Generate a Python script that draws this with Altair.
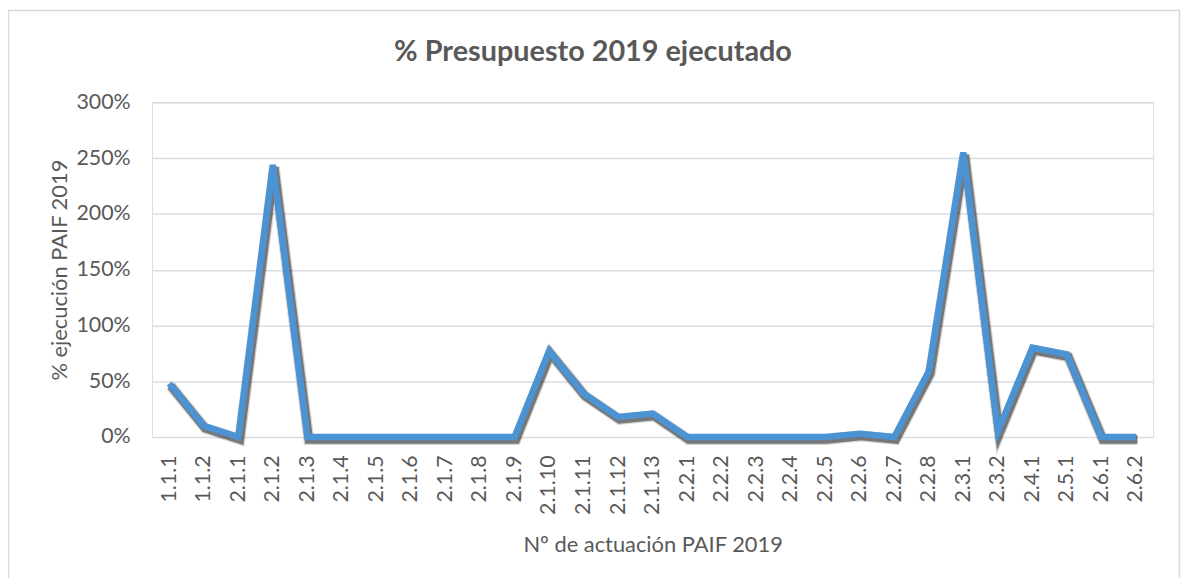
import altair as alt
import pandas as pd

categories = ["1.1.1", "1.1.2", "2.1.1", "2.1.2", "2.1.3", "2.1.4", "2.1.5", "2.1.6",
              "2.1.7", "2.1.8", "2.1.9", "2.1.10", "2.1.11", "2.1.12", "2.1.13",
              "2.2.1", "2.2.2", "2.2.3", "2.2.4", "2.2.5", "2.2.6", "2.2.7", "2.2.8",
              "2.3.1", "2.3.2", "2.4.1", "2.5.1", "2.6.1", "2.6.2"]
ejecucion = [0.48, 0.10, 0.0, 2.44, 0.0, 0.0, 0.0, 0.0,
             0.0, 0.0, 0.0, 0.77, 0.39, 0.18, 0.21,
             0.0, 0.0, 0.0, 0.0, 0.0, 0.03, 0.0, 0.59,
             2.55, 0.05, 0.80, 0.74, 0.0, 0.0]
y_ticks = [0, 0.5, 1.0, 1.5, 2.0, 2.5, 3.0]
chart_title = "% Presupuesto 2019 ejecutado"

FONT = "Lato"
TXT = "#595959"
PLOT_W, PLOT_H = 1008, 337
PAD_L, PAD_T, PAD_R, PAD_B = 145, 93, 28, 140

df = pd.DataFrame({"act": categories, "pct": ejecucion})

x_enc = alt.X("act:N", sort=categories,
              scale=alt.Scale(type="point", padding=0.5),
              axis=alt.Axis(title="Nº de actuación PAIF 2019", labelAngle=270,
                            labelFontSize=21.5, labelFont=FONT, labelColor=TXT,
                            labelPadding=18, labelOverlap=False, labelFlush=False,
                            ticks=False, domain=False, grid=False,
                            titleFont=FONT, titleFontSize=22, titleFontWeight="normal",
                            titleColor=TXT, titlePadding=20))
y_enc = alt.Y("pct:Q", scale=alt.Scale(domain=[0, 3], nice=False),
              axis=alt.Axis(title="% ejecución PAIF 2019", values=y_ticks, format=".0%",
                            labelFontSize=21.5, labelFont=FONT, labelColor=TXT,
                            labelPadding=22, ticks=False, domain=False,
                            grid=True, gridColor="#d9dde2", gridWidth=1.5,
                            titleFont=FONT, titleFontSize=22, titleFontWeight="normal",
                            titleColor=TXT, titlePadding=4))

base = alt.Chart(df)
shadow_wide = base.mark_line(color="#000000", strokeWidth=11, opacity=0.16,
                             xOffset=1.5, yOffset=2.5, strokeJoin="miter").encode(x=x_enc, y=y_enc)
shadow = base.mark_line(color="#2a2a2a", strokeWidth=8.5, opacity=0.55,
                        xOffset=1.5, yOffset=2.5, strokeJoin="miter").encode(x=x_enc, y=y_enc)
line = base.mark_line(color="#4b93d2", strokeWidth=6.5, strokeJoin="miter").encode(x=x_enc, y=y_enc)

one = pd.DataFrame({"k": [0]})
frame = alt.Chart(one).mark_rect(
    fillOpacity=0, stroke="#d9d9d9", strokeWidth=1.5
).encode(x=alt.value(-PAD_L + 0.5), x2=alt.value(PLOT_W + PAD_R - 1.5),
         y=alt.value(-PAD_T + 0.5), y2=alt.value(PLOT_H + PAD_B + 20))

title = alt.Chart(one).mark_text(
    text=chart_title, font=FONT, fontSize=29, fontWeight="bold", color=TXT,
    align="center", baseline="alphabetic"
).encode(x=alt.value(597 - 153), y=alt.value(59 - 100.7))

chart = alt.layer(frame, shadow_wide, shadow, line, title).properties(
    width=PLOT_W, height=PLOT_H,
    padding={"left": PAD_L, "top": PAD_T, "right": PAD_R, "bottom": PAD_B},
    autosize=alt.AutoSizeParams(type="none"),
).configure_view(stroke=None).configure(background="white")

chart.save("out.html", embed_options={"renderer": "svg", "actions": False})
